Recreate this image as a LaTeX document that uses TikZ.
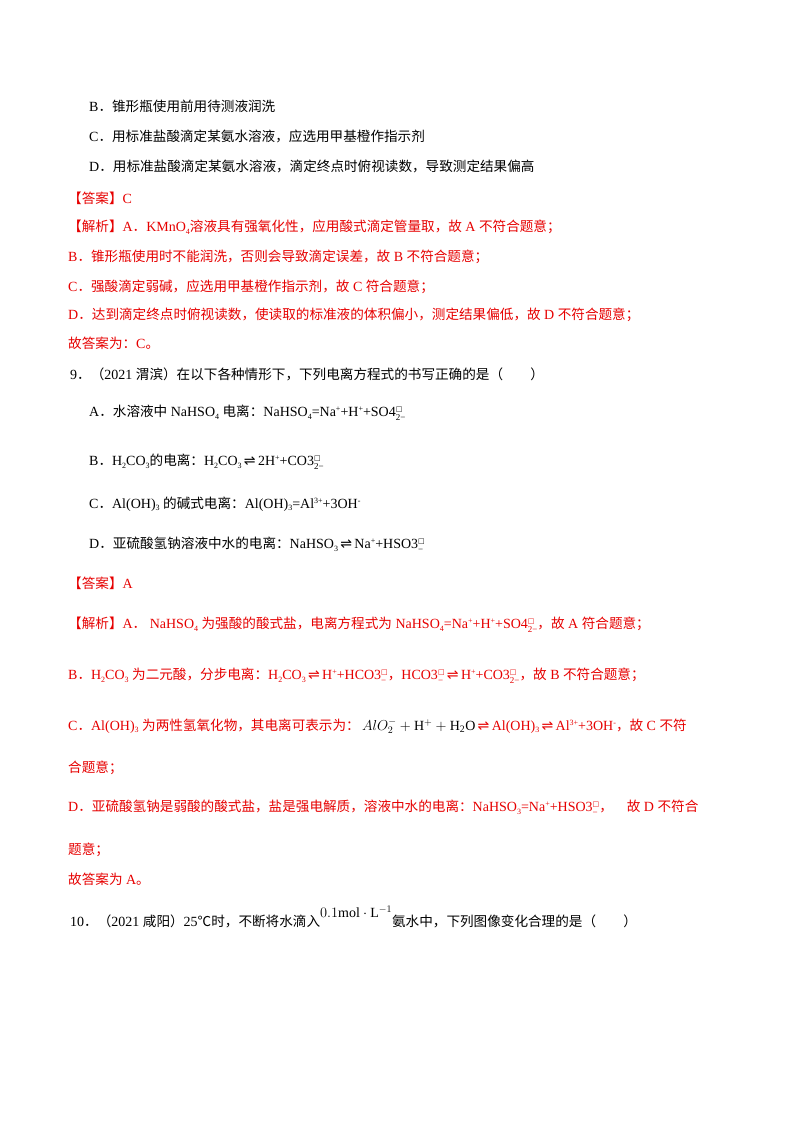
\documentclass[tikz,border=0pt]{standalone}
\usepackage{fontspec}
\setmainfont{Liberation Serif}
\newfontfamily\cjk{Noto Sans CJK SC}
\newfontfamily\dvs{DejaVu Sans}
\newcommand{\zh}[1]{{\cjk\fontsize{13.6}{15}\selectfont #1}}
\newsavebox\ionA\newsavebox\ionB
\newcommand{\ion}[2]{\sbox\ionA{\raisebox{0.9ex}{\dvs\fontsize{7}{7}\selectfont #1}}\sbox\ionB{\raisebox{-0.6ex}{\fontsize{9}{9}\selectfont #2}}\rlap{\usebox\ionA}\rlap{\usebox\ionB}\hspace{\ifdim\wd\ionA>\wd\ionB\wd\ionA\else\wd\ionB\fi}}
\newcommand{\eqa}{{\dvs ⇌}}
\newcommand{\sbs}[1]{\raisebox{-0.4ex}{\fontsize{8}{8}\selectfont #1}}
\newcommand{\sps}[1]{\raisebox{0.8ex}{\fontsize{8}{8}\selectfont #1}}
\definecolor{ans}{RGB}{230,0,0}
\begin{document}
\begin{tikzpicture}[x=1pt,y=-1pt,
  ln/.style={anchor=west,inner sep=0pt,font=\fontsize{14}{16}\selectfont},
  rd/.style={ln,text=ans}]
\useasboundingbox (0,0) rectangle (800,1132);
\node[ln] (b8) at (89,106) {B\zh{．锥形瓶使用前用待测液润洗}};
\node[ln] (c8) at (89,136) {C\zh{．用标准盐酸滴定某氨水溶液，应选用甲基橙作指示剂}};
\node[ln] (d8) at (89,166) {D\zh{．用标准盐酸滴定某氨水溶液，滴定终点时俯视读数，导致测定结果偏高}};
\node[rd] (a8) at (68,198) {\zh{【答案】}C};
\node[rd] (j1) at (68,227) {\zh{【解析】}A\zh{．}KMnO\sbs{4}\zh{溶液具有强氧化性，应用酸式滴定管量取，故} A \zh{不符合题意；}};
\node[rd] (j2) at (68,257) {B\zh{．锥形瓶使用时不能润洗，否则会导致滴定误差，故} B \zh{不符合题意；}};
\node[rd] (j3) at (68,287) {C\zh{．强酸滴定弱碱，应选用甲基橙作指示剂，故} C \zh{符合题意；}};
\node[rd] (j4) at (68,315) {D\zh{．达到滴定终点时俯视读数，使读取的标准液的体积偏小，测定结果偏低，故} D \zh{不符合题意；}};
\node[rd] (j5) at (68,343) {\zh{故答案为：}C\zh{。}};
\node[ln] (q9) at (70,374) {9\zh{．（}2021 \zh{渭滨）在以下各种情形下，下列电离方程式的书写正确的是（\quad\quad ）}};
\node[ln] (a9) at (89,413) {A\zh{．水溶液中} NaHSO\sbs{4} \zh{电离：}NaHSO\sbs{4}=Na\sps{+}+H\sps{+}+SO4\ion{□}{2−}};
\node[ln] (b9) at (89,462) {B\zh{．}H\sbs{2}CO\sbs{3}\zh{的电离：}H\sbs{2}CO\sbs{3}\,\eqa\,2H\sps{+}+CO3\ion{□}{2−}};
\node[ln] (c9) at (89,504) {C\zh{．}Al(OH)\sbs{3} \zh{的碱式电离：}Al(OH)\sbs{3}=Al\sps{3+}+3OH\sps{-}};
\node[ln] (d9) at (89,545) {D\zh{．亚硫酸氢钠溶液中水的电离：}NaHSO\sbs{3}\,\eqa\,Na\sps{+}+HSO3\ion{□}{−}};
\node[rd] (ans9) at (68,583) {\zh{【答案】}A};
\node[rd] (k1) at (68,625) {\zh{【解析】}A\zh{．} NaHSO\sbs{4} \zh{为强酸的酸式盐，电离方程式为} NaHSO\sbs{4}=Na\sps{+}+H\sps{+}+SO4\ion{□}{2−}\zh{，故} A \zh{符合题意；}};
\node[rd] (k2) at (68,676) {B\zh{．}H\sbs{2}CO\sbs{3} \zh{为二元酸，分步电离：}H\sbs{2}CO\sbs{3}\,\eqa\,H\sps{+}+HCO3\ion{□}{−}\zh{，}HCO3\ion{□}{−}\,\eqa\,H\sps{+}+CO3\ion{□}{2−}\zh{，故} B \zh{不符合题意；}};
\node[rd] (k3) at (68,726) {C\zh{．}Al(OH)\sbs{3} \zh{为两性氢氧化物，其电离可表示为：}\,{\color{black}$AlO_2^- + \mathrm{H}^+ + \mathrm{H_2O}$}\,\eqa\,Al(OH)\sbs{3}\,\eqa\,Al\sps{3+}+3OH\sps{-}\zh{，故} C \zh{不符}};
\node[rd] (k3b) at (68,768) {\zh{合题意；}};
\node[rd] (k4) at (68,808) {D\zh{．亚硫酸氢钠是弱酸的酸式盐，盐是强电解质，溶液中水的电离：}NaHSO\sbs{3}=Na\sps{+}+HSO3\ion{□}{−}\zh{，}\quad\zh{故} D \zh{不符合}};
\node[rd] (k4b) at (68,850) {\zh{题意；}};
\node[rd] (k5) at (68,879) {\zh{故答案为} A\zh{。}};
\node[ln] (q10) at (70,917) {10\zh{．（}2021 \zh{咸阳）}25\zh{℃时，不断将水滴入}\raisebox{1.3ex}{$0.1\mathrm{mol}\cdot\mathrm{L}^{-1}$}\zh{氨水中，下列图像变化合理的是（\quad\quad ）}};
\end{tikzpicture}
\end{document}
